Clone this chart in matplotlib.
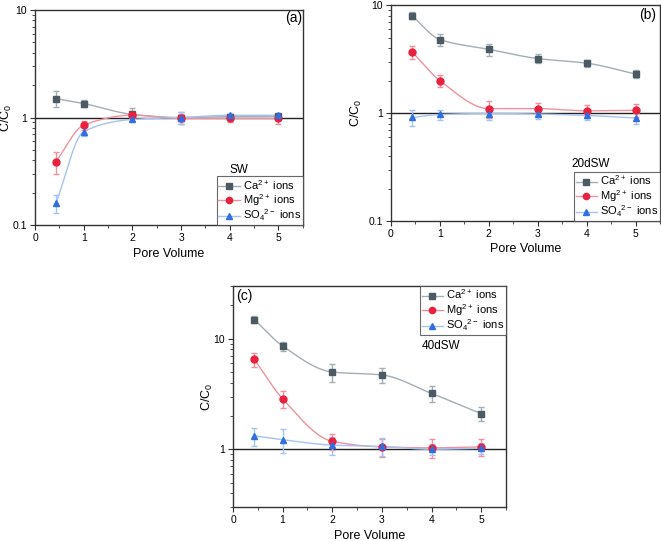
import matplotlib
matplotlib.use("Agg")
import matplotlib.pyplot as plt
import numpy as np

plt.rcParams['font.family'] = ['Liberation Sans', 'DejaVu Sans']
plt.rcParams['mathtext.default'] = 'regular'

# pore volume points (same for all panels)
pore_volume = [0.43, 1, 2, 3, 4, 5]

# (a) SW
sw_ca = [1.5, 1.35, 1.07, 1.0, 1.02, 1.03]
sw_ca_err = [0.25, 0.1, 0.15, 0.12, 0.05, 0.05]
sw_mg = [0.39, 0.85, 1.05, 0.98, 0.98, 0.98]
sw_mg_err = [0.09, 0.08, 0.06, 0.1, 0.08, 0.1]
sw_so4 = [0.16, 0.74, 0.96, 1.0, 1.05, 1.05]
sw_so4_err = [0.03, 0.07, 0.04, 0.12, 0.04, 0.04]

# (b) 20dSW
d20_ca = [8.0, 4.8, 3.9, 3.2, 2.9, 2.3]
d20_ca_err = [0.6, 0.6, 0.5, 0.3, 0.2, 0.2]
d20_mg = [3.7, 2.0, 1.1, 1.1, 1.05, 1.06]
d20_mg_err = [0.5, 0.25, 0.2, 0.15, 0.15, 0.15]
d20_so4 = [0.91, 0.97, 0.99, 0.98, 0.95, 0.9]
d20_so4_err = [0.15, 0.1, 0.12, 0.1, 0.08, 0.1]

# (c) 40dSW
d40_ca = [14.9, 8.6, 5.0, 4.7, 3.2, 2.1]
d40_ca_err = [1.0, 0.8, 0.9, 0.7, 0.5, 0.3]
d40_mg = [6.5, 2.86, 1.18, 1.05, 1.03, 1.05]
d40_mg_err = [1.0, 0.5, 0.2, 0.2, 0.2, 0.18]
d40_so4 = [1.32, 1.22, 1.09, 1.06, 1.0, 1.02]
d40_so4_err = [0.24, 0.29, 0.2, 0.2, 0.12, 0.12]

ion_labels = ['Ca$^{2+}$ ions', 'Mg$^{2+}$ ions', 'SO$_4$$^{2-}$ ions']

# marker colour, line colour, marker shape
styles = [
    ('#4b5a63', '#a3aeb2', 's'),
    ('#e8213f', '#f1909f', 'o'),
    ('#2f6fe0', '#a4c3f2', '^'),
]


def pchip(x, y, xs):
    # monotone cubic through the points (no overshoot)
    x = np.asarray(x, float)
    y = np.asarray(y, float)
    h = np.diff(x)
    d = np.diff(y) / h
    n = len(x)
    m = np.zeros(n)
    for k in range(1, n - 1):
        if d[k - 1] * d[k] > 0:
            w1 = 2 * h[k] + h[k - 1]
            w2 = h[k] + 2 * h[k - 1]
            m[k] = (w1 + w2) / (w1 / d[k - 1] + w2 / d[k])
    m[0] = d[0]
    m[-1] = d[-1]
    out = np.empty_like(xs)
    for i, xv in enumerate(xs):
        k = min(np.searchsorted(x, xv, side='right') - 1, n - 2)
        k = max(k, 0)
        t = (xv - x[k]) / h[k]
        h00 = 2 * t**3 - 3 * t**2 + 1
        h10 = t**3 - 2 * t**2 + t
        h01 = -2 * t**3 + 3 * t**2
        h11 = t**3 - t**2
        out[i] = h00 * y[k] + h10 * h[k] * m[k] + h01 * y[k + 1] + h11 * h[k] * m[k + 1]
    return out


def draw_panel(ax, series, ylim, tag, tag_pos, name, name_pos, leg_loc, ylab_x):
    ax.set_yscale('log')
    xs = np.linspace(pore_volume[0], pore_volume[-1], 200)
    handles = []
    for (vals, errs), (mc, lc, mk), lab in zip(series, styles, ion_labels):
        smooth = np.exp(pchip(pore_volume, np.log(vals), xs))
        ax.plot(xs, smooth, color=lc, lw=1.0, zorder=2)
        ax.errorbar(pore_volume, vals, yerr=errs, fmt='none', ecolor=lc,
                    elinewidth=1.0, capsize=2.5, capthick=1.0, zorder=3)
        ax.plot(pore_volume, vals, linestyle='none', marker=mk, ms=5,
                color=mc, zorder=4)
        h, = ax.plot([], [], color=lc, lw=1.0, marker=mk, ms=4.5,
                     markerfacecolor=mc, markeredgecolor=mc)
        handles.append(h)
    ax.axhline(1, color='#222222', lw=1.0, zorder=1)
    ax.set_xlim(0, 5.5)
    ax.set_ylim(*ylim)
    ax.set_xticks([0, 1, 2, 3, 4, 5])
    ax.set_xticks([0.5, 1.5, 2.5, 3.5, 4.5, 5.5], minor=True)
    ax.yaxis.set_major_formatter(matplotlib.ticker.FuncFormatter(lambda v, p: f'{v:g}'))
    ax.yaxis.set_minor_formatter(matplotlib.ticker.NullFormatter())
    ax.tick_params(which='both', direction='out', labelsize=7.5, color='#333333')
    ax.tick_params(which='major', length=3.5, pad=2.5)
    ax.tick_params(which='minor', length=2)
    for s in ax.spines.values():
        s.set_color('#333333')
        s.set_linewidth(1.0)
    ax.set_xlabel('Pore Volume', fontsize=9, labelpad=3)
    ax.set_ylabel('C/C$_0$', fontsize=9)
    ax.yaxis.set_label_coords(ylab_x, 0.5)
    ax.text(*tag_pos, tag, transform=ax.transAxes, fontsize=10,
            ha='center', va='center')
    ax.text(*name_pos, name, transform=ax.transAxes, fontsize=8.5,
            ha='left', va='center')
    anchor = (1.0, 0.0) if 'lower' in leg_loc else (1.0, 1.0)
    leg = ax.legend(handles, ion_labels, loc=leg_loc, bbox_to_anchor=anchor,
                    fontsize=8, frameon=True, fancybox=False, borderaxespad=0,
                    handlelength=1.9, handletextpad=0.3, borderpad=0.15,
                    labelspacing=0.02)
    leg.get_frame().set_edgecolor('#444444')
    leg.get_frame().set_linewidth(0.8)


fig = plt.figure(figsize=(6.61, 5.41), dpi=100)

ax_a = fig.add_axes([0.053, 0.584, 0.405, 0.3975])
draw_panel(ax_a,
           [(sw_ca, sw_ca_err), (sw_mg, sw_mg_err), (sw_so4, sw_so4_err)],
           (0.1, 10), '(a)', (0.966, 0.963), 'SW', (0.728, 0.256),
           'lower right', -0.078)

ax_b = fig.add_axes([0.5915, 0.5915, 0.407, 0.399])
draw_panel(ax_b,
           [(d20_ca, d20_ca_err), (d20_mg, d20_mg_err), (d20_so4, d20_so4_err)],
           (0.1, 10), '(b)', (0.955, 0.954), '20dSW', (0.67, 0.266),
           'lower right', -0.1)

ax_c = fig.add_axes([0.3525, 0.0628, 0.413, 0.4085])
draw_panel(ax_c,
           [(d40_ca, d40_ca_err), (d40_mg, d40_mg_err), (d40_so4, d40_so4_err)],
           (0.3, 30), '(c)', (0.04, 0.955), '40dSW', (0.692, 0.728),
           'upper right', -0.066)

fig.savefig('out.png', dpi=100)
